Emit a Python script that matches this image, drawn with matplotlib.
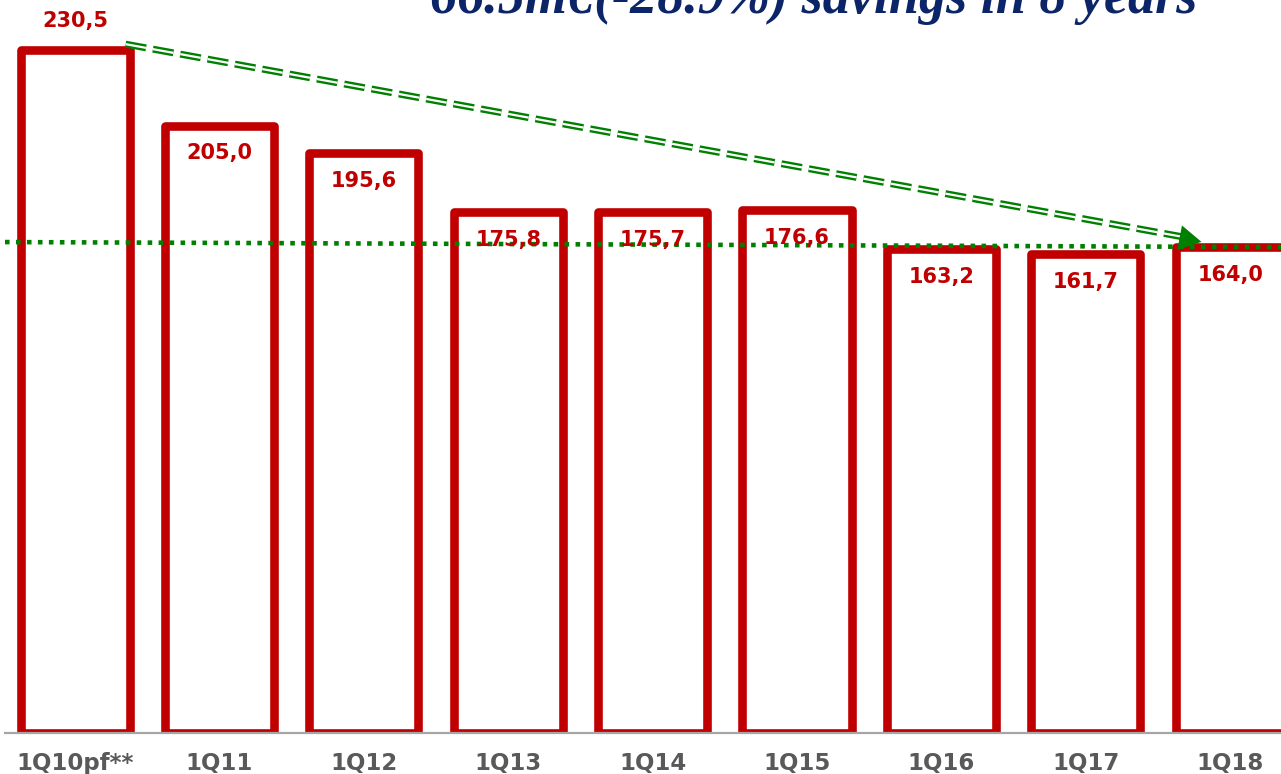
import matplotlib
matplotlib.use("Agg")
import matplotlib.pyplot as plt

# quarterly cost figures (m€)
quarters = ["1Q10pf**", "1Q11", "1Q12", "1Q13", "1Q14", "1Q15", "1Q16", "1Q17", "1Q18"]
costs = [230.5, 205.0, 195.6, 175.8, 175.7, 176.6, 163.2, 161.7, 164.0]
title = "66.5m€(-28.9%) savings in 8 years"

red = "#C00000"
green = "#008000"
navy = "#0B2568"

plt.rcParams["lines.scale_dashes"] = False

fig = plt.figure(figsize=(12.81, 7.74), dpi=100)
ax = fig.add_axes([5 / 1281, 41 / 774, 1 - 5 / 1281, 1 - 41 / 774])
ax.set_xlim(-0.485, 8.352)
ax.set_ylim(0, 247.4)

x = list(range(len(quarters)))
ax.bar(x, costs, width=0.755, color="white", edgecolor=red, linewidth=6.2,
       joinstyle="round", zorder=2)

# value labels: first one above the bar, the rest inside near the top
for i, v in enumerate(costs):
    label = f"{v:.1f}".replace(".", ",")
    off = 21 if i == 0 else -20
    ax.annotate(label, (i, v), xytext=(0, off), textcoords="offset points",
                ha="center", va="center", fontsize=15, fontweight="bold",
                color=red, zorder=4)

# reference level of the latest quarter
ax.plot([-0.485, 8.352], [165.7, 164.0], color=green, linewidth=3.3,
        linestyle=(0, (3.3, 4.6)), dash_capstyle="butt", zorder=3)

# double-line dashed arrow from the starting quarter to the latest one
x0, y0 = 0.35, 232.5
x1, y1 = 7.70, 167.2
ax.plot([x0, x1], [y0, y1], color=green, linewidth=5.0,
        dashes=(15, 5), dash_capstyle="butt", zorder=3)
ax.plot([x0, x1], [y0, y1], color="white", linewidth=1.6,
        dashes=(15, 5), dash_capstyle="butt", zorder=3)
ax.annotate("", xy=(7.82, 165.6), xytext=(7.68, 166.9),
            arrowprops=dict(arrowstyle="-|>,head_length=0.5,head_width=0.28",
                            color=green, mutation_scale=32, linewidth=0),
            zorder=3)

ax.set_xticks(x)
ax.set_xticklabels(quarters, fontsize=16.5, fontweight="bold", color="#595959")
ax.tick_params(axis="x", length=0, pad=14)
ax.set_yticks([])
for s in ["top", "left", "right"]:
    ax.spines[s].set_visible(False)
ax.spines["bottom"].set_color("#A6A6A6")
ax.spines["bottom"].set_linewidth(1.6)

fig.text(814 / 1281, 1 - 13 / 774, title, ha="center", va="baseline",
         fontsize=39, fontweight="bold", fontstyle="italic",
         family="Liberation Serif", color=navy)

fig.savefig("out.png", dpi=100)
